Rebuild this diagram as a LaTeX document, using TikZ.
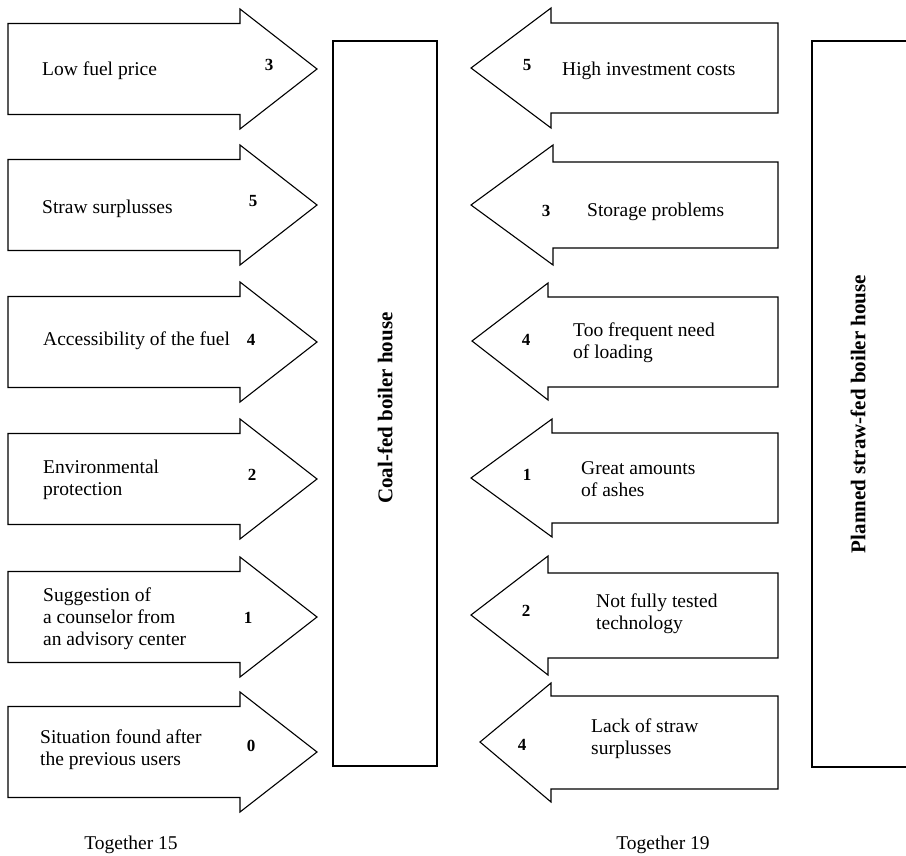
\documentclass[tikz,border=0pt]{standalone}
\usepackage{fontspec}
\setmainfont{Liberation Serif}
\begin{document}
\begin{tikzpicture}[x=1pt,y=-1pt,line join=miter,
  shp/.style={draw=black,line width=1.1pt},
  lbl/.style={anchor=west,align=left,inner sep=0pt,font=\fontsize{19.5}{22}\selectfont},
  num/.style={inner sep=0pt,font=\fontsize{17}{20}\selectfont\bfseries},
  vlbl/.style={inner sep=0pt,rotate=90,font=\fontsize{21}{24}\selectfont\bfseries},
  tot/.style={inner sep=0pt,font=\fontsize{19.5}{22}\selectfont}]
\useasboundingbox (0,0) rectangle (906,856);
% left arrows: tip y
\foreach \ty in {69,205,342,479,617,752}{
  \draw[shp] (8,\ty-45.5) -- (240,\ty-45.5) -- (240,\ty-60) -- (317,\ty) -- (240,\ty+60) -- (240,\ty+45.5) -- (8,\ty+45.5) -- cycle;
}
% right arrows
\draw[shp] (778,23) -- (551,23) -- (551,8) -- (471,68) -- (551,128) -- (551,113) -- (778,113) -- cycle;
\draw[shp] (778,162) -- (553,162) -- (553,145) -- (471,205) -- (553,265) -- (553,248) -- (778,248) -- cycle;
\draw[shp] (778,297) -- (548,297) -- (548,283) -- (472,341) -- (548,400) -- (548,387) -- (778,387) -- cycle;
\draw[shp] (778,433) -- (552,433) -- (552,419) -- (471,478) -- (552,537) -- (552,523) -- (778,523) -- cycle;
\draw[shp] (778,573) -- (548,573) -- (548,556) -- (471,615) -- (548,675) -- (548,658) -- (778,658) -- cycle;
\draw[shp] (778,696) -- (551,696) -- (551,683) -- (480,742) -- (551,802) -- (551,789) -- (778,789) -- cycle;
% boxes
\draw[shp] (333,41) rectangle (437,766);
\draw[shp] (906,41) -- (812,41) -- (812,767) -- (906,767);
% left labels
\node[lbl] (l1) at (42,71) {Low fuel price};
\node[lbl] (l2) at (42,209) {Straw surplusses};
\node[lbl] (l3) at (43,341) {Accessibility of the fuel};
\node[lbl] (l4) at (43,480) {Environmental\\protection};
\node[lbl] (l5) at (43,619) {Suggestion of\\a counselor from\\an advisory center};
\node[lbl] (l6) at (40,750) {Situation found after\\the previous users};
\node[num] (n1) at (269,65) {3};
\node[num] (n2) at (253,201) {5};
\node[num] (n3) at (251,340) {4};
\node[num] (n4) at (252,475) {2};
\node[num] (n5) at (248,618) {1};
\node[num] (n6) at (251,746) {0};
% right labels
\node[lbl] (r1) at (562,71) {High investment costs};
\node[lbl] (r2) at (587,212) {Storage problems};
\node[lbl] (r3) at (573,343) {Too frequent need\\of loading};
\node[lbl] (r4) at (581,479) {Great amounts\\of ashes};
\node[lbl] (r5) at (596,614) {Not fully tested\\technology};
\node[lbl] (r6) at (591,739) {Lack of straw\\surplusses};
\node[num] (m1) at (527,65) {5};
\node[num] (m2) at (546,211) {3};
\node[num] (m3) at (526,340) {4};
\node[num] (m4) at (527,475) {1};
\node[num] (m5) at (526,611) {2};
\node[num] (m6) at (522,745) {4};
% vertical titles
\node[vlbl] (coal) at (385,408) {Coal-fed boiler house};
\node[vlbl] (straw) at (858,414) {Planned straw-fed boiler house};
% totals
\node[tot] (t1) at (131,845) {Together 15};
\node[tot] (t2) at (663,845) {Together 19};
\end{tikzpicture}
\end{document}
